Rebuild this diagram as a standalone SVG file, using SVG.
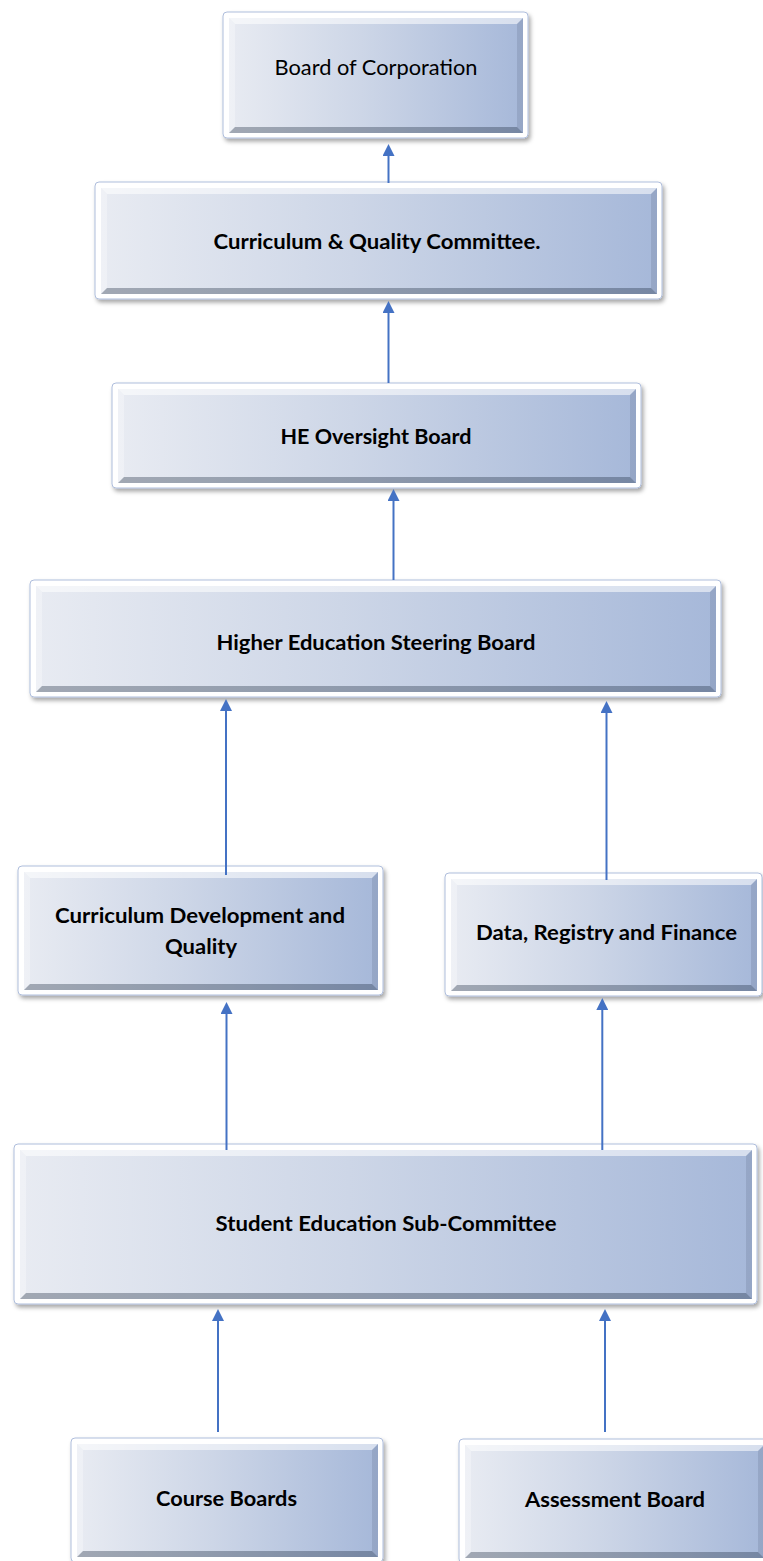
<svg xmlns="http://www.w3.org/2000/svg" width="763" height="1561" viewBox="0 0 763 1561">
  <defs>
    <!-- face colour of every bevelled box: pale grey on the left to steel blue on the right -->
    <linearGradient id="face" x1="0" y1="0" x2="1" y2="0">
      <stop offset="0" stop-color="#E8EBF2"/>
      <stop offset="0.45" stop-color="#CDD6E7"/>
      <stop offset="1" stop-color="#A6B8D9"/>
    </linearGradient>
    <filter id="shadow" x="-5%" y="-10%" width="112%" height="130%">
      <feDropShadow dx="2" dy="3" stdDeviation="2.2" flood-color="#000" flood-opacity="0.35"/>
    </filter>
    <marker id="head" markerUnits="userSpaceOnUse" markerWidth="12" markerHeight="12" viewBox="0 0 12 12" refX="2" refY="6" orient="auto">
      <path d="M0,0 L12,6 L0,12 z" fill="#4472C4"/>
    </marker>
    <style>
      .frame { fill: #FFFFFF; stroke: #AFBEDC; stroke-width: 1; filter: url(#shadow); }
      .face { fill: url(#face); }
      .bt { fill: #FFFFFF; fill-opacity: 0.55; }
      .bl { fill: #FFFFFF; fill-opacity: 0.3; }
      .bb { fill: #1E2A40; fill-opacity: 0.35; }
      .br { fill: #1E2A40; fill-opacity: 0.12; }
      .lbl { font-family: Lato, "Open Sans", "Liberation Sans", sans-serif; font-size: 21px; fill: #000000; text-anchor: middle; }
      .b { font-weight: bold; }
      .conn { stroke: #4472C4; stroke-width: 2; fill: none; marker-end: url(#head); }
    </style>
  </defs>

  <rect width="763" height="1561" fill="#FFFFFF"/>

  <g id="nodes">
    <g id="board-of-corporation">
      <rect class="frame" x="223" y="12" width="305" height="126" rx="4"/>
      <rect class="face" x="229" y="18" width="294" height="115"/>
      <polygon class="bt" points="229,18 523,18 517,24 235,24"/>
      <polygon class="bl" points="229,18 235,24 235,127 229,133"/>
      <polygon class="bb" points="229,133 235,127 517,127 523,133"/>
      <polygon class="br" points="523,18 523,133 517,127 517,24"/>
      <text class="lbl" x="376" y="74.5" textLength="203" lengthAdjust="spacingAndGlyphs">Board of Corporation</text>
    </g>

    <g id="curriculum-quality-committee">
      <rect class="frame" x="95" y="182" width="567" height="117" rx="4"/>
      <rect class="face" x="101" y="188" width="556" height="106"/>
      <polygon class="bt" points="101,188 657,188 651,194 107,194"/>
      <polygon class="bl" points="101,188 107,194 107,288 101,294"/>
      <polygon class="bb" points="101,294 107,288 651,288 657,294"/>
      <polygon class="br" points="657,188 657,294 651,288 651,194"/>
      <text class="lbl b" x="377" y="249" textLength="327" lengthAdjust="spacingAndGlyphs">Curriculum &amp; Quality Committee.</text>
    </g>

    <g id="he-oversight-board">
      <rect class="frame" x="112" y="383" width="529" height="105" rx="4"/>
      <rect class="face" x="118" y="389" width="518" height="94"/>
      <polygon class="bt" points="118,389 636,389 630,395 124,395"/>
      <polygon class="bl" points="118,389 124,395 124,477 118,483"/>
      <polygon class="bb" points="118,483 124,477 630,477 636,483"/>
      <polygon class="br" points="636,389 636,483 630,477 630,395"/>
      <text class="lbl b" x="376" y="444" textLength="191" lengthAdjust="spacingAndGlyphs">HE Oversight Board</text>
    </g>

    <g id="higher-education-steering-board">
      <rect class="frame" x="30" y="580" width="691" height="117" rx="4"/>
      <rect class="face" x="36" y="586" width="680" height="106"/>
      <polygon class="bt" points="36,586 716,586 710,592 42,592"/>
      <polygon class="bl" points="36,586 42,592 42,686 36,692"/>
      <polygon class="bb" points="36,692 42,686 710,686 716,692"/>
      <polygon class="br" points="716,586 716,692 710,686 710,592"/>
      <text class="lbl b" x="376" y="650" textLength="319" lengthAdjust="spacingAndGlyphs">Higher Education Steering Board</text>
    </g>

    <g id="curriculum-development-quality">
      <rect class="frame" x="18" y="866" width="365" height="129" rx="4"/>
      <rect class="face" x="24" y="872" width="354" height="118"/>
      <polygon class="bt" points="24,872 378,872 372,878 30,878"/>
      <polygon class="bl" points="24,872 30,878 30,984 24,990"/>
      <polygon class="bb" points="24,990 30,984 372,984 378,990"/>
      <polygon class="br" points="378,872 378,990 372,984 372,878"/>
      <text class="lbl b" x="200" y="923" textLength="290" lengthAdjust="spacingAndGlyphs">Curriculum Development and</text>
      <text class="lbl b" x="201" y="954" textLength="72" lengthAdjust="spacingAndGlyphs">Quality</text>
    </g>

    <g id="data-registry-finance">
      <rect class="frame" x="445" y="873" width="317" height="123" rx="4"/>
      <rect class="face" x="451" y="879" width="306" height="112"/>
      <polygon class="bt" points="451,879 757,879 751,885 457,885"/>
      <polygon class="bl" points="451,879 457,885 457,985 451,991"/>
      <polygon class="bb" points="451,991 457,985 751,985 757,991"/>
      <polygon class="br" points="757,879 757,991 751,985 751,885"/>
      <text class="lbl b" x="606.5" y="940" textLength="261" lengthAdjust="spacingAndGlyphs">Data, Registry and Finance</text>
    </g>

    <g id="student-education-sub-committee">
      <rect class="frame" x="14" y="1144" width="743" height="160" rx="4"/>
      <rect class="face" x="20" y="1150" width="732" height="149"/>
      <polygon class="bt" points="20,1150 752,1150 746,1156 26,1156"/>
      <polygon class="bl" points="20,1150 26,1156 26,1293 20,1299"/>
      <polygon class="bb" points="20,1299 26,1293 746,1293 752,1299"/>
      <polygon class="br" points="752,1150 752,1299 746,1293 746,1156"/>
      <text class="lbl b" x="386" y="1231" textLength="341" lengthAdjust="spacingAndGlyphs">Student Education Sub-Committee</text>
    </g>

    <g id="course-boards">
      <rect class="frame" x="71" y="1438" width="312" height="124" rx="4"/>
      <rect class="face" x="77" y="1444" width="301" height="113"/>
      <polygon class="bt" points="77,1444 378,1444 372,1450 83,1450"/>
      <polygon class="bl" points="77,1444 83,1450 83,1551 77,1557"/>
      <polygon class="bb" points="77,1557 83,1551 372,1551 378,1557"/>
      <polygon class="br" points="378,1444 378,1557 372,1551 372,1450"/>
      <text class="lbl b" x="226.5" y="1506" textLength="141" lengthAdjust="spacingAndGlyphs">Course Boards</text>
    </g>

    <g id="assessment-board">
      <rect class="frame" x="459" y="1439" width="310" height="124" rx="4"/>
      <rect class="face" x="465" y="1445" width="299" height="113"/>
      <polygon class="bt" points="465,1445 764,1445 758,1451 471,1451"/>
      <polygon class="bl" points="465,1445 471,1451 471,1552 465,1558"/>
      <polygon class="bb" points="465,1558 471,1552 758,1552 764,1558"/>
      <polygon class="br" points="764,1445 764,1558 758,1552 758,1451"/>
      <text class="lbl b" x="615" y="1507" textLength="180" lengthAdjust="spacingAndGlyphs">Assessment Board</text>
    </g>
  </g>

  <!-- reporting lines, each pointing up to the body it reports to -->
  <g id="connectors">
    <line class="conn" x1="388.5" y1="183" x2="388.5" y2="154"/>
    <line class="conn" x1="388.5" y1="383" x2="388.5" y2="311"/>
    <line class="conn" x1="393.5" y1="580" x2="393.5" y2="499"/>
    <line class="conn" x1="226" y1="875" x2="226" y2="709"/>
    <line class="conn" x1="606.5" y1="880" x2="606.5" y2="711"/>
    <line class="conn" x1="226.5" y1="1150" x2="226.5" y2="1012"/>
    <line class="conn" x1="602.3" y1="1150" x2="602.3" y2="1008"/>
    <line class="conn" x1="218" y1="1432" x2="218" y2="1319"/>
    <line class="conn" x1="605" y1="1432" x2="605" y2="1319"/>
  </g>
</svg>
